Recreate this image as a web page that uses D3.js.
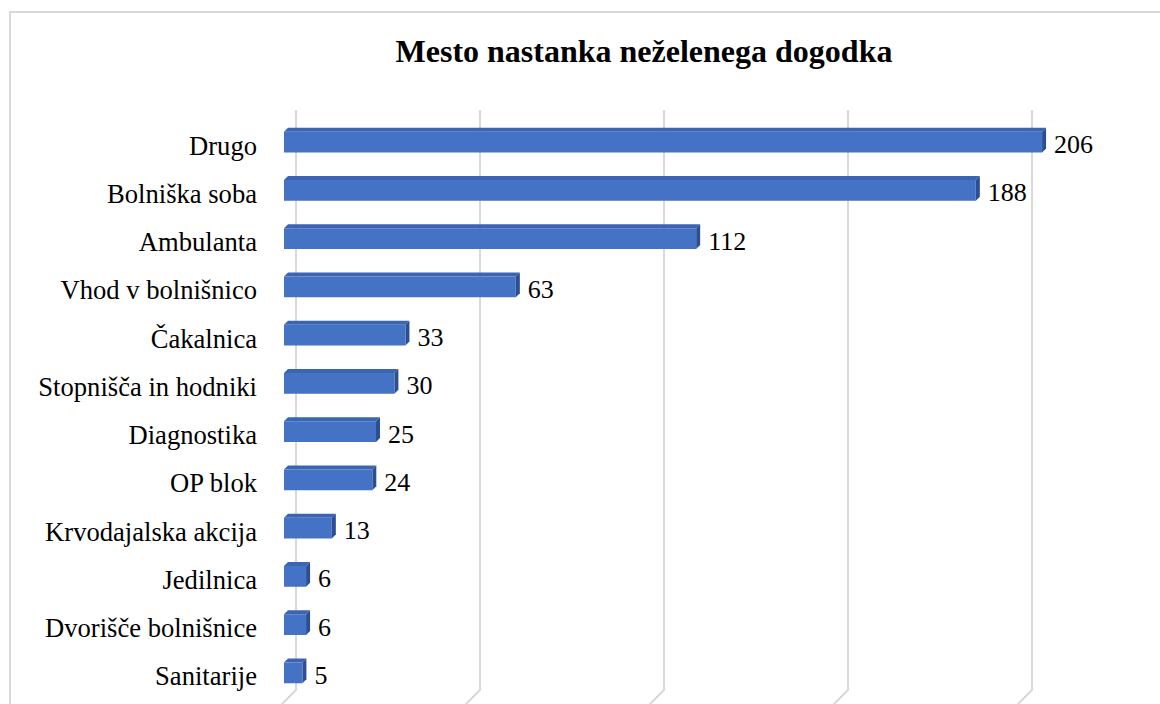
<!DOCTYPE html>
<html>
<head>
<meta charset="utf-8">
<script src="https://cdn.jsdelivr.net/npm/d3@7"></script>
<style>
  body { margin: 0; background: #fff; }
  svg { display: block; }
</style>
</head>
<body>
<svg id="chart" width="1160" height="704"></svg>
<script>
// data
const categories = ["Drugo", "Bolniška soba", "Ambulanta", "Vhod v bolnišnico", "Čakalnica",
  "Stopnišča in hodniki", "Diagnostika", "OP blok", "Krvodajalska akcija", "Jedilnica",
  "Dvorišče bolnišnice", "Sanitarije"];
const values = [206, 188, 112, 63, 33, 30, 25, 24, 13, 6, 6, 5];
const gridTicks = [0, 50, 100, 150, 200];
const title = "Mesto nastanka neželenega dogodka";

const data = categories.map((c, i) => ({ name: c, value: values[i] }));

const svg = d3.select("#chart");
const font = '"Liberation Serif"';

// chart frame (runs off the right and bottom of the picture)
svg.append("rect")
  .attr("x", 10).attr("y", 12)
  .attr("width", 1200).attr("height", 760)
  .attr("fill", "#fff")
  .attr("stroke", "#d9d9d9")
  .attr("stroke-width", 2);

// front-face scale; the back wall sits a bit to the right
const x = d3.scaleLinear().domain([0, 200]).range([284, 1020]);
const y = d3.scaleBand().domain(categories).range([118, 697]);
const wallShift = 12;
const depth = 4;
const barH = y.bandwidth() * 0.43;

// gridlines on back wall, bending onto the floor
const grid = svg.append("g");
gridTicks.forEach(t => {
  const gx = x(t) + wallShift;
  grid.append("path")
    .attr("d", `M${gx},110 L${gx},690 L${gx - 18},708`)
    .attr("fill", "none")
    .attr("stroke", "#d9d9d9")
    .attr("stroke-width", 2);
});

// 3D bars
const bars = svg.append("g").selectAll("g.bar")
  .data(data)
  .enter()
  .append("g")
  .attr("class", "bar");

const cy = d => y(d.name) + y.bandwidth() / 2;

// top face
bars.append("path")
  .attr("d", d => {
    const x0 = x(0), x1 = x(d.value), t = cy(d) - barH / 2;
    return `M${x0},${t} L${x0 + depth},${t - depth} L${x1 + depth},${t - depth} L${x1},${t} Z`;
  })
  .attr("fill", "#3b65b3");

// side face
bars.append("path")
  .attr("d", d => {
    const x1 = x(d.value), t = cy(d) - barH / 2, b = cy(d) + barH / 2;
    return `M${x1},${t} L${x1 + depth},${t - depth} L${x1 + depth},${b - depth} L${x1},${b} Z`;
  })
  .attr("fill", "#2c4f92");

// front face
bars.append("rect")
  .attr("x", x(0))
  .attr("y", d => cy(d) - barH / 2)
  .attr("width", d => x(d.value) - x(0))
  .attr("height", barH)
  .attr("fill", "#4472c4");

// value labels
bars.append("text")
  .attr("x", d => x(d.value) + depth + 8)
  .attr("y", d => cy(d) + 11)
  .style("font-family", font)
  .style("font-size", "26px")
  .attr("fill", "#000")
  .text(d => d.value);

// category labels
svg.append("g").selectAll("text")
  .data(data)
  .enter()
  .append("text")
  .attr("x", 257)
  .attr("y", d => cy(d) + 12.5)
  .attr("text-anchor", "end")
  .style("font-family", font)
  .style("font-size", "26.6px")
  .attr("fill", "#000")
  .text(d => d.name);

// title
svg.append("text")
  .attr("x", 644)
  .attr("y", 62)
  .attr("text-anchor", "middle")
  .style("font-family", font)
  .style("font-size", "32px")
  .style("font-weight", "bold")
  .attr("fill", "#000")
  .text(title);
</script>
</body>
</html>
